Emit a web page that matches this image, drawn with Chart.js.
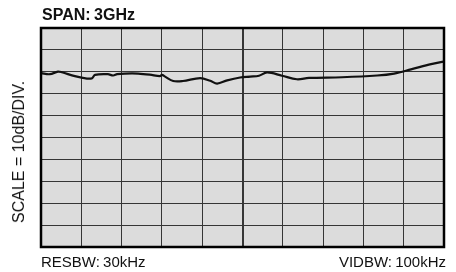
<!DOCTYPE html>
<html>
<head>
<meta charset="utf-8">
<script src="https://cdn.jsdelivr.net/npm/chart.js@4"></script>
<style>
  html,body{margin:0;padding:0;background:#fff;}
  #wrap{position:relative;width:456px;height:272px;font-family:"Liberation Sans",Arial,sans-serif;color:#111;}
  #wrap canvas{position:absolute;left:0;top:0;}
  .lbl{position:absolute;white-space:nowrap;line-height:1;word-spacing:-1px;}
  #span{left:42px;top:7px;font-size:16px;font-weight:bold;}
  #res{left:41px;top:254px;font-size:15px;}
  #vid{right:10px;top:254px;font-size:15px;}
  #scale{left:19px;top:152px;font-size:16px;transform:translate(-50%,-50%) rotate(-90deg);word-spacing:0;}
</style>
</head>
<body>
<div id="wrap">
  <canvas id="spec" width="456" height="272"></canvas>
  <div class="lbl" id="span">SPAN: 3GHz</div>
  <div class="lbl" id="scale">SCALE = 10dB/DIV.</div>
  <div class="lbl" id="res">RESBW: 30kHz</div>
  <div class="lbl" id="vid">VIDBW: 100kHz</div>
</div>
<script>
// trace, x in % of span (10 div), level in dB below top line
const freqPos = [0, 2.2, 4.2, 5.2, 8.4, 11.4, 12.7, 13.4, 16.6, 17.9, 18.9, 20.8, 24.1, 27.0, 29.5, 30.0, 30.8, 32.8, 35.2, 39.5, 42.0, 43.7, 46.2, 49.4, 51.9, 54.1, 56.1, 59.8, 63.5, 66.5, 74.7, 83.4, 87.6, 91.8, 96.8, 100];
const level = [-20.6, -21.1, -19.9, -20.2, -22.0, -23.1, -22.9, -21.4, -21.1, -21.7, -21.1, -20.8, -20.8, -21.3, -22.0, -21.4, -22.2, -24.2, -24.2, -22.9, -24.1, -25.4, -23.9, -22.6, -22.2, -21.8, -20.3, -21.8, -23.4, -22.8, -22.5, -21.7, -20.8, -18.9, -16.5, -15.3];
const xDivs = [0, 100, 10];   // min, max, step
const yDivs = [-100, 0, 10];

const screenBg = {
  id: 'screenBg',
  beforeDraw(chart){
    const {ctx, chartArea:a} = chart;
    ctx.save();
    ctx.fillStyle = '#dcdcdc';
    ctx.fillRect(a.left, a.top, a.right - a.left, a.bottom - a.top);
    ctx.restore();
  },
  afterDraw(chart){
    const {ctx, chartArea:a} = chart;
    ctx.save();
    ctx.strokeStyle = '#000';
    ctx.lineWidth = 2.5;
    ctx.strokeRect(a.left, a.top, a.right - a.left, a.bottom - a.top);
    ctx.restore();
  }
};

new Chart(document.getElementById('spec').getContext('2d'), {
  type: 'line',
  data: {
    datasets: [{
      data: freqPos.map((x, i) => ({x, y: level[i]})),
      borderColor: '#111',
      borderWidth: 2.2,
      pointRadius: 0,
      tension: 0.35,
      fill: false
    }]
  },
  options: {
    responsive: false,
    animation: false,
    layout: { padding: { left: 41, right: 12, top: 28, bottom: 25 } },
    plugins: { legend: { display: false }, tooltip: { enabled: false } },
    scales: {
      x: {
        type: 'linear', min: xDivs[0], max: xDivs[1],
        ticks: { display: false, stepSize: xDivs[2] },
        grid: { drawTicks: false, color: '#363636', lineWidth: c => c.tick && c.tick.value === 50 ? 2 : 1 },
        border: { display: false }
      },
      y: {
        type: 'linear', min: yDivs[0], max: yDivs[1],
        ticks: { display: false, stepSize: yDivs[2] },
        grid: { drawTicks: false, color: '#363636', lineWidth: 1 },
        border: { display: false }
      }
    }
  },
  plugins: [screenBg]
});
</script>
</body>
</html>
